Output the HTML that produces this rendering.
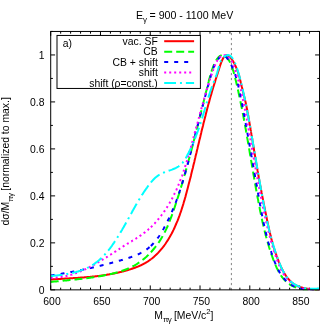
<!DOCTYPE html>
<html><head><meta charset="utf-8"><title>plot</title>
<style>html,body{margin:0;padding:0;background:#fff;width:332px;height:332px;overflow:hidden}</style></head>
<body>
<svg width="332" height="332" viewBox="0 0 332 332" style="position:absolute;left:0;top:0;will-change:transform">
<rect x="0" y="0" width="332" height="332" fill="#fff"/>
<path d="M50.70,289.85v-4.4M50.70,31.45v4.4M60.66,289.85v-2.2M60.66,31.45v2.2M70.61,289.85v-2.2M70.61,31.45v2.2M80.57,289.85v-2.2M80.57,31.45v2.2M90.52,289.85v-2.2M90.52,31.45v2.2M100.48,289.85v-4.4M100.48,31.45v4.4M110.43,289.85v-2.2M110.43,31.45v2.2M120.39,289.85v-2.2M120.39,31.45v2.2M130.34,289.85v-2.2M130.34,31.45v2.2M140.30,289.85v-2.2M140.30,31.45v2.2M150.26,289.85v-4.4M150.26,31.45v4.4M160.21,289.85v-2.2M160.21,31.45v2.2M170.17,289.85v-2.2M170.17,31.45v2.2M180.12,289.85v-2.2M180.12,31.45v2.2M190.08,289.85v-2.2M190.08,31.45v2.2M200.03,289.85v-4.4M200.03,31.45v4.4M209.99,289.85v-2.2M209.99,31.45v2.2M219.94,289.85v-2.2M219.94,31.45v2.2M229.90,289.85v-2.2M229.90,31.45v2.2M239.86,289.85v-2.2M239.86,31.45v2.2M249.81,289.85v-4.4M249.81,31.45v4.4M259.77,289.85v-2.2M259.77,31.45v2.2M269.72,289.85v-2.2M269.72,31.45v2.2M279.68,289.85v-2.2M279.68,31.45v2.2M289.63,289.85v-2.2M289.63,31.45v2.2M299.59,289.85v-4.4M299.59,31.45v4.4M309.54,289.85v-2.2M309.54,31.45v2.2M319.50,289.85v-2.2M319.50,31.45v2.2M50.7,289.85h4.4M319.5,289.85h-4.4M50.7,266.36h2.2M319.5,266.36h-2.2M50.7,242.87h4.4M319.5,242.87h-4.4M50.7,219.38h2.2M319.5,219.38h-2.2M50.7,195.89h4.4M319.5,195.89h-4.4M50.7,172.40h2.2M319.5,172.40h-2.2M50.7,148.90h4.4M319.5,148.90h-4.4M50.7,125.41h2.2M319.5,125.41h-2.2M50.7,101.92h4.4M319.5,101.92h-4.4M50.7,78.43h2.2M319.5,78.43h-2.2M50.7,54.94h4.4M319.5,54.94h-4.4M50.7,31.45h2.2M319.5,31.45h-2.2" stroke="#000" stroke-width="1" fill="none"/>
<line x1="231.4" y1="290.15000000000003" x2="231.4" y2="31.45" stroke="#777" stroke-width="0.9" stroke-dasharray="2.2,2.8"/>
<g fill="none" stroke-width="2" stroke-linejoin="round" clip-path="url(#cp)">
<path d="M50.7,279.5 L51.0,279.5 L51.5,279.4 L52.0,279.4 L52.5,279.4 L53.0,279.3 L53.5,279.3 L54.0,279.3 L54.5,279.2 L54.9,279.2 L55.4,279.2 L55.9,279.2 L56.4,279.1 L56.9,279.1 L57.4,279.1 L57.9,279.0 L58.4,279.0 L58.9,279.0 L59.4,278.9 L59.9,278.9 L60.4,278.9 L60.9,278.9 L61.4,278.8 L61.9,278.8 L62.4,278.8 L62.9,278.7 L63.4,278.7 L63.9,278.7 L64.4,278.7 L64.9,278.6 L65.4,278.6 L65.9,278.6 L66.4,278.5 L66.9,278.5 L67.4,278.5 L67.9,278.5 L68.4,278.4 L68.8,278.4 L69.3,278.4 L69.8,278.3 L70.3,278.3 L70.8,278.3 L71.3,278.3 L71.8,278.2 L72.3,278.2 L72.8,278.2 L73.3,278.1 L73.8,278.1 L74.3,278.1 L74.8,278.0 L75.3,278.0 L75.8,278.0 L76.3,278.0 L76.8,277.9 L77.2,277.9 L77.7,277.9 L78.2,277.8 L78.7,277.8 L79.2,277.8 L79.7,277.7 L80.2,277.7 L80.7,277.6 L81.2,277.6 L81.7,277.6 L82.2,277.5 L82.7,277.5 L83.2,277.5 L83.6,277.4 L84.1,277.4 L84.6,277.3 L85.1,277.3 L85.6,277.3 L86.1,277.2 L86.6,277.2 L87.1,277.1 L87.6,277.1 L88.1,277.1 L88.6,277.0 L89.0,277.0 L89.5,276.9 L90.0,276.9 L90.5,276.8 L91.0,276.8 L91.5,276.7 L92.0,276.7 L92.5,276.6 L93.0,276.6 L93.4,276.5 L93.9,276.5 L94.4,276.4 L94.9,276.4 L95.4,276.3 L95.9,276.3 L96.4,276.2 L96.9,276.2 L97.4,276.1 L97.8,276.0 L98.3,276.0 L98.8,275.9 L99.3,275.9 L99.8,275.8 L100.3,275.7 L100.8,275.7 L101.3,275.6 L101.7,275.5 L102.2,275.5 L102.7,275.4 L103.2,275.3 L103.7,275.3 L104.2,275.2 L104.7,275.1 L105.2,275.0 L105.6,275.0 L106.1,274.9 L106.6,274.8 L107.1,274.7 L107.6,274.6 L108.1,274.6 L108.6,274.5 L109.0,274.4 L109.5,274.3 L110.0,274.2 L110.5,274.1 L111.0,274.1 L111.5,274.0 L112.0,273.9 L112.4,273.8 L112.9,273.7 L113.4,273.6 L113.9,273.5 L114.4,273.4 L114.9,273.3 L115.3,273.2 L115.8,273.1 L116.3,273.0 L116.8,272.9 L117.3,272.8 L117.8,272.7 L118.2,272.6 L118.7,272.4 L119.2,272.3 L119.7,272.2 L120.2,272.1 L120.7,272.0 L121.1,271.9 L121.6,271.8 L122.1,271.6 L122.6,271.5 L123.1,271.4 L123.6,271.3 L124.0,271.1 L124.5,271.0 L125.0,270.9 L125.5,270.7 L126.0,270.6 L126.4,270.5 L126.9,270.3 L127.4,270.2 L127.9,270.0 L128.4,269.9 L128.8,269.7 L129.3,269.6 L129.8,269.4 L130.3,269.3 L130.8,269.1 L131.2,269.0 L131.7,268.8 L132.2,268.7 L132.7,268.5 L133.2,268.3 L133.6,268.2 L134.1,268.0 L134.6,267.8 L135.0,267.7 L135.5,267.5 L136.0,267.3 L136.5,267.1 L136.9,266.9 L137.4,266.8 L137.9,266.6 L138.3,266.4 L138.8,266.2 L139.2,266.0 L139.7,265.8 L140.2,265.6 L140.6,265.4 L141.1,265.2 L141.5,264.9 L142.0,264.7 L142.4,264.5 L142.8,264.3 L143.3,264.1 L143.7,263.8 L144.2,263.6 L144.6,263.4 L145.0,263.1 L145.5,262.9 L145.9,262.6 L146.3,262.4 L146.7,262.1 L147.1,261.9 L147.6,261.6 L148.0,261.3 L148.4,261.1 L148.8,260.8 L149.2,260.5 L149.6,260.2 L150.0,259.9 L150.4,259.6 L150.8,259.4 L150.9,259.3" stroke="#ff0000"/>
<path d="M150.9,259.3 L152.3,258.2 L153.8,256.9 L155.3,255.6 L156.7,254.3 L158.1,252.9 L159.4,251.4 L160.7,249.9 L162.0,248.4 L163.2,246.9 L164.4,245.3 L165.5,243.7 L166.6,242.0 L167.7,240.4 L168.7,238.7 L169.7,237.0 L170.7,235.2 L171.7,233.5 L172.6,231.7 L173.5,229.9 L174.3,228.2 L175.1,226.4 L175.9,224.5 L176.7,222.7 L177.5,220.9 L178.2,219.1 L178.9,217.2 L179.6,215.4 L180.2,213.5 L180.9,211.7 L181.5,209.8 L182.1,207.9 L182.7,206.0 L183.3,204.1 L183.8,202.3 L184.4,200.4 L184.9,198.5 L185.5,196.6 L186.0,194.6 L186.5,192.7 L187.0,190.8 L187.5,188.9 L188.0,187.0 L188.5,185.1 L189.0,183.1 L189.5,181.2 L190.0,179.3 L190.5,177.4 L191.0,175.4 L191.4,173.5 L191.9,171.6 L192.4,169.6 L192.9,167.7 L193.3,165.8 L193.8,163.8 L194.3,161.9 L194.7,160.0 L195.2,158.0 L195.6,156.1 L196.1,154.2 L196.6,152.2 L197.0,150.3 L197.5,148.4 L197.9,146.4 L198.4,144.5 L198.9,142.6 L199.3,140.6 L199.8,138.7 L200.3,136.8 L200.7,134.9 L201.2,132.9 L201.6,131.0 L202.1,129.1 L202.6,127.2 L203.1,125.2 L203.5,123.3 L204.0,121.4 L204.5,119.5 L205.0,117.6 L205.5,115.7 L205.9,113.8 L206.4,111.9 L206.9,110.0 L207.4,108.1 L207.9,106.2 L208.4,104.3 L209.0,102.4 L209.5,100.5 L210.0,98.6 L210.5,96.7 L211.1,94.9 L211.6,93.0 L212.1,91.1 L212.7,89.3 L213.2,87.4 L213.8,85.6 L214.4,83.7 L215.0,81.9 L215.5,80.0 L216.1,78.1 L216.7,76.2 L217.4,74.2 L218.0,72.2 L218.7,70.2 L219.3,68.1 L220.0,65.9 L220.8,63.7 L221.6,61.5 L222.5,59.5 L223.4,57.8 L224.5,56.4 L225.7,55.4 L227.0,55.2 L228.3,55.6 L229.7,56.7 L231.0,58.2 L232.3,60.0 L233.5,62.0 L234.6,64.1 L235.6,66.1 L236.4,68.1 L237.2,70.0 L237.9,71.9 L238.5,73.8 L239.1,75.6 L239.6,77.5 L240.0,79.3 L240.5,81.2 L240.9,83.0 L241.4,84.9 L241.8,86.8 L242.3,88.7 L242.8,90.6 L243.2,92.5 L243.7,94.5 L244.2,96.4 L244.7,98.4 L245.1,100.3 L245.6,102.3 L246.0,104.2 L246.4,106.1 L246.8,108.1 L247.2,110.0 L247.5,112.0 L247.9,113.9 L248.3,115.8 L248.6,117.8 L248.9,119.7 L249.3,121.7 L249.6,123.6 L250.0,125.6 L250.3,127.5 L250.6,129.5 L251.0,131.4 L251.0,131.7" stroke="#ff0000"/>
<path d="M251.0,131.7 L251.1,132.4 L251.3,133.4 L251.4,134.4 L251.6,135.3 L251.8,136.3 L251.9,137.3 L252.1,138.3 L252.3,139.2 L252.4,140.2 L252.6,141.2 L252.7,142.2 L252.9,143.2 L253.1,144.1 L253.2,145.1 L253.4,146.1 L253.6,147.1 L253.7,148.0 L253.9,149.0 L254.0,150.0 L254.2,151.0 L254.4,152.0 L254.5,152.9 L254.7,153.9 L254.9,154.9 L255.0,155.8 L255.2,156.8 L255.3,157.8 L255.5,158.8 L255.7,159.7 L255.8,160.7 L256.0,161.7 L256.2,162.7 L256.3,163.6 L256.5,164.6 L256.7,165.6 L256.8,166.5 L257.0,167.5 L257.2,168.5 L257.4,169.5 L257.5,170.4 L257.7,171.4 L257.9,172.4 L258.0,173.4 L258.2,174.3 L258.4,175.3 L258.6,176.3 L258.7,177.2 L258.9,178.2 L259.1,179.2 L259.3,180.2 L259.4,181.1 L259.6,182.1 L259.8,183.1 L260.0,184.1 L260.2,185.1 L260.4,186.0 L260.5,187.0 L260.7,188.0 L260.9,189.0 L261.1,189.9 L261.3,190.9 L261.5,191.9 L261.6,192.9 L261.8,193.8 L262.0,194.8 L262.2,195.8 L262.4,196.8 L262.6,197.7 L262.8,198.7 L263.0,199.7 L263.2,200.7 L263.4,201.7 L263.5,202.6 L263.7,203.6 L263.9,204.6 L264.1,205.5 L264.3,206.5 L264.5,207.5 L264.7,208.5 L264.9,209.4 L265.1,210.4 L265.3,211.4 L265.5,212.3 L265.7,213.3 L265.9,214.3 L266.1,215.2 L266.3,216.2 L266.5,217.2 L266.7,218.1 L266.9,219.1 L267.1,220.1 L267.3,221.0 L267.5,222.0 L267.7,223.0 L267.9,223.9 L268.1,224.9 L268.3,225.8 L268.5,226.8 L268.7,227.8 L268.9,228.7 L269.2,229.7 L269.4,230.6 L269.6,231.6 L269.8,232.5 L270.1,233.5 L270.3,234.5 L270.5,235.4 L270.8,236.4 L271.0,237.3 L271.2,238.3 L271.5,239.2 L271.7,240.2 L272.0,241.1 L272.3,242.1 L272.5,243.0 L272.8,244.0 L273.1,244.9 L273.3,245.8 L273.6,246.8 L273.9,247.7 L274.2,248.7 L274.5,249.6 L274.8,250.6 L275.1,251.5 L275.4,252.4 L275.7,253.4 L276.1,254.3 L276.4,255.3 L276.7,256.2 L277.0,257.1 L277.4,258.1 L277.7,259.0 L278.1,260.0 L278.5,260.9 L278.8,261.8 L279.2,262.8 L279.6,263.7 L280.0,264.6 L280.4,265.5 L280.8,266.5 L281.2,267.4 L281.6,268.3 L282.1,269.2 L282.5,270.1 L283.0,271.0 L283.5,271.8 L284.0,272.7 L284.5,273.5 L285.0,274.4 L285.5,275.2 L286.1,276.0 L286.6,276.8 L287.2,277.6 L287.8,278.3 L288.4,279.0 L289.1,279.8 L289.7,280.4 L290.4,281.1 L291.1,281.8 L291.8,282.4 L292.5,283.0 L293.3,283.5 L294.1,284.1 L294.9,284.6 L295.7,285.1 L296.6,285.5 L297.5,286.0 L298.4,286.3 L299.3,286.7 L300.2,287.0 L301.2,287.4 L302.2,287.6 L303.1,287.9 L304.1,288.1 L305.2,288.3 L306.2,288.5 L307.2,288.7 L308.2,288.8 L309.2,289.0 L310.3,289.1 L311.3,289.2 L312.3,289.3 L313.3,289.3 L314.3,289.4 L315.2,289.4 L316.2,289.4 L317.2,289.5 L318.1,289.5 L319.0,289.5 L319.5,289.5" stroke="#ff0000"/>
<path d="M50.7,281.9 L51.0,281.9 L51.5,281.8 L52.0,281.8 L52.5,281.7 L53.0,281.7 L53.5,281.6 L54.0,281.6 L54.5,281.5 L55.0,281.5 L55.4,281.5 L55.9,281.4 L56.4,281.4 L56.9,281.3 L57.4,281.3 L57.9,281.2 L58.4,281.2 L58.9,281.1 L59.4,281.1 L59.9,281.0 L60.4,281.0 L60.9,280.9 L61.4,280.9 L61.9,280.8 L62.4,280.8 L62.8,280.7 L63.3,280.7 L63.8,280.6 L64.3,280.6 L64.8,280.5 L65.3,280.5 L65.8,280.4 L66.3,280.4 L66.8,280.4 L67.3,280.3 L67.8,280.3 L68.3,280.2 L68.8,280.2 L69.3,280.1 L69.8,280.1 L70.2,280.0 L70.7,280.0 L71.2,279.9 L71.7,279.9 L72.2,279.8 L72.7,279.8 L73.2,279.7 L73.7,279.7 L74.2,279.6 L74.7,279.6 L75.2,279.5 L75.7,279.5 L76.2,279.4 L76.7,279.4 L77.1,279.3 L77.6,279.3 L78.1,279.2 L78.6,279.1 L79.1,279.1 L79.6,279.0 L80.1,279.0 L80.6,278.9 L81.1,278.9 L81.6,278.8 L82.1,278.8 L82.6,278.7 L83.1,278.6 L83.5,278.6 L84.0,278.5 L84.5,278.5 L85.0,278.4 L85.5,278.3 L86.0,278.3 L86.5,278.2 L87.0,278.2 L87.5,278.1 L88.0,278.0 L88.5,278.0 L88.9,277.9 L89.4,277.8 L89.9,277.8 L90.4,277.7 L90.9,277.6 L91.4,277.6 L91.9,277.5 L92.4,277.4 L92.9,277.3 L93.3,277.3 L93.8,277.2 L94.3,277.1 L94.8,277.0 L95.3,277.0 L95.8,276.9 L96.3,276.8 L96.8,276.7 L97.3,276.7 L97.7,276.6 L98.2,276.5 L98.7,276.4 L99.2,276.3 L99.7,276.2 L100.2,276.2 L100.7,276.1 L101.1,276.0 L101.6,275.9 L102.1,275.8 L102.6,275.7 L103.1,275.6 L103.6,275.5 L104.1,275.4 L104.5,275.3 L105.0,275.2 L105.5,275.1 L106.0,275.1 L106.5,275.0 L107.0,274.8 L107.4,274.7 L107.9,274.6 L108.4,274.5 L108.9,274.4 L109.4,274.3 L109.9,274.2 L110.3,274.1 L110.8,274.0 L111.3,273.9 L111.8,273.8 L112.3,273.7 L112.7,273.5 L113.2,273.4 L113.7,273.3 L114.2,273.2 L114.7,273.1 L115.1,272.9 L115.6,272.8 L116.1,272.7 L116.6,272.5 L117.0,272.4 L117.5,272.3 L118.0,272.1 L118.4,272.0 L118.9,271.9 L119.4,271.7 L119.9,271.6 L120.3,271.4 L120.8,271.3 L121.3,271.1 L121.7,271.0 L122.2,270.8 L122.7,270.7 L123.1,270.5 L123.6,270.3 L124.0,270.2 L124.5,270.0 L125.0,269.8 L125.4,269.6 L125.9,269.5 L126.3,269.3 L126.8,269.1 L127.2,268.9 L127.7,268.7 L128.1,268.5 L128.6,268.4 L129.0,268.2 L129.5,268.0 L129.9,267.8 L130.4,267.5 L130.8,267.3 L131.2,267.1 L131.7,266.9 L132.1,266.7 L132.5,266.5 L133.0,266.2 L133.4,266.0 L133.8,265.8 L134.2,265.6 L134.7,265.3 L135.1,265.1 L135.5,264.8 L135.9,264.6 L136.4,264.3 L136.8,264.1 L137.2,263.8 L137.6,263.5 L138.0,263.3 L138.4,263.0 L138.8,262.7 L139.2,262.5 L139.6,262.2 L140.0,261.9 L140.4,261.6 L140.8,261.3 L141.2,261.0 L141.6,260.7 L142.0,260.4 L142.4,260.1 L142.8,259.8 L143.1,259.5 L143.5,259.2 L143.9,258.9 L144.3,258.6 L144.7,258.3 L145.0,258.0 L145.4,257.6 L145.8,257.3 L146.1,257.0 L146.5,256.7 L146.9,256.3 L147.2,256.0 L147.6,255.6 L147.9,255.3 L148.3,255.0 L148.6,254.6 L149.0,254.3 L149.3,253.9 L149.7,253.6 L150.0,253.2 L150.4,252.8 L150.7,252.5 L150.9,252.3" stroke="#00ff00" stroke-dasharray="8,4"/>
<path d="M150.9,252.3 L152.0,251.0 L153.3,249.5 L154.6,248.0 L155.8,246.4 L157.0,244.8 L158.2,243.2 L159.3,241.6 L160.4,239.9 L161.4,238.2 L162.4,236.5 L163.3,234.8 L164.3,233.1 L165.2,231.3 L166.0,229.6 L166.9,227.8 L167.7,226.0 L168.4,224.2 L169.2,222.3 L169.9,220.5 L170.6,218.7 L171.3,216.8 L172.0,215.0 L172.7,213.1 L173.3,211.2 L174.0,209.3 L174.6,207.5 L175.2,205.6 L175.8,203.7 L176.5,201.8 L177.1,199.9 L177.7,198.0 L178.3,196.1 L178.9,194.2 L179.4,192.3 L180.0,190.4 L180.6,188.5 L181.2,186.6 L181.8,184.7 L182.3,182.8 L182.9,180.9 L183.4,179.0 L184.0,177.1 L184.5,175.2 L185.1,173.2 L185.6,171.3 L186.2,169.4 L186.7,167.5 L187.2,165.6 L187.8,163.7 L188.3,161.7 L188.8,159.8 L189.3,157.9 L189.8,156.0 L190.4,154.1 L190.9,152.1 L191.4,150.2 L191.9,148.3 L192.4,146.4 L192.9,144.5 L193.4,142.5 L193.9,140.6 L194.4,138.7 L194.9,136.8 L195.4,134.8 L195.8,132.9 L196.3,131.0 L196.8,129.1 L197.3,127.2 L197.8,125.2 L198.3,123.3 L198.7,121.4 L199.2,119.5 L199.7,117.6 L200.2,115.7 L200.6,113.7 L201.1,111.8 L201.6,109.9 L202.1,108.0 L202.5,106.1 L203.0,104.2 L203.5,102.3 L203.9,100.4 L204.4,98.5 L204.9,96.6 L205.4,94.7 L205.8,92.8 L206.3,90.9 L206.8,89.0 L207.2,87.1 L207.7,85.2 L208.2,83.3 L208.7,81.4 L209.1,79.5 L209.7,77.6 L210.2,75.7 L210.8,73.8 L211.4,71.8 L212.0,69.9 L212.7,68.0 L213.4,66.0 L214.2,64.0 L215.1,62.1 L216.2,60.3 L217.3,58.6 L218.7,57.0 L220.1,55.8 L221.7,55.1 L223.3,55.2 L224.9,55.8 L226.4,57.0 L227.8,58.6 L229.0,60.4 L230.0,62.3 L230.9,64.3 L231.7,66.3 L232.4,68.3 L233.1,70.3 L233.7,72.2 L234.2,74.1 L234.7,76.0 L235.2,77.9 L235.6,79.8 L236.1,81.7 L236.5,83.6 L237.0,85.5 L237.4,87.4 L237.8,89.3 L238.3,91.3 L238.7,93.2 L239.1,95.1 L239.5,97.0 L239.9,98.9 L240.3,100.9 L240.7,102.8 L241.1,104.7 L241.5,106.7 L241.9,108.6 L242.2,110.6 L242.6,112.5 L243.0,114.4 L243.4,116.4 L243.7,118.3 L244.1,120.3 L244.5,122.2 L244.8,124.2 L245.2,126.1 L245.5,128.1 L245.9,130.0 L246.2,132.0 L246.6,133.9 L246.9,135.9 L247.2,137.9 L247.6,139.8 L247.9,141.8 L248.3,143.7 L248.6,145.7 L248.9,147.6 L249.3,149.6 L249.6,151.6 L249.9,153.5 L250.3,155.5 L250.6,157.5 L250.9,159.4 L251.0,159.8" stroke="#00ff00" stroke-dasharray="8,4"/>
<path d="M251.0,159.8 L251.1,160.4 L251.3,161.4 L251.4,162.3 L251.6,163.3 L251.8,164.3 L251.9,165.3 L252.1,166.3 L252.3,167.2 L252.4,168.2 L252.6,169.2 L252.8,170.2 L252.9,171.2 L253.1,172.1 L253.3,173.1 L253.4,174.1 L253.6,175.1 L253.8,176.1 L254.0,177.0 L254.1,178.0 L254.3,179.0 L254.5,180.0 L254.6,180.9 L254.8,181.9 L255.0,182.9 L255.2,183.9 L255.3,184.8 L255.5,185.8 L255.7,186.8 L255.8,187.8 L256.0,188.7 L256.2,189.7 L256.4,190.7 L256.5,191.7 L256.7,192.6 L256.9,193.6 L257.1,194.6 L257.3,195.5 L257.4,196.5 L257.6,197.5 L257.8,198.5 L258.0,199.4 L258.2,200.4 L258.3,201.4 L258.5,202.3 L258.7,203.3 L258.9,204.3 L259.1,205.2 L259.3,206.2 L259.5,207.2 L259.7,208.1 L259.8,209.1 L260.0,210.0 L260.2,211.0 L260.4,212.0 L260.6,212.9 L260.8,213.9 L261.0,214.9 L261.2,215.8 L261.4,216.8 L261.6,217.7 L261.8,218.7 L262.0,219.6 L262.2,220.6 L262.4,221.6 L262.6,222.5 L262.9,223.5 L263.1,224.4 L263.3,225.4 L263.5,226.3 L263.7,227.3 L264.0,228.3 L264.2,229.2 L264.4,230.2 L264.7,231.1 L264.9,232.1 L265.1,233.0 L265.4,234.0 L265.6,234.9 L265.9,235.9 L266.1,236.8 L266.4,237.8 L266.6,238.7 L266.9,239.7 L267.2,240.6 L267.4,241.6 L267.7,242.5 L268.0,243.5 L268.3,244.4 L268.6,245.4 L268.8,246.3 L269.1,247.3 L269.4,248.2 L269.7,249.2 L270.0,250.1 L270.3,251.1 L270.7,252.0 L271.0,253.0 L271.3,253.9 L271.6,254.9 L272.0,255.8 L272.3,256.7 L272.6,257.7 L273.0,258.6 L273.3,259.6 L273.7,260.5 L274.1,261.5 L274.4,262.4 L274.8,263.4 L275.2,264.3 L275.6,265.2 L276.0,266.2 L276.4,267.1 L276.8,268.0 L277.3,268.9 L277.7,269.8 L278.2,270.7 L278.6,271.6 L279.1,272.5 L279.6,273.3 L280.1,274.2 L280.7,275.0 L281.2,275.8 L281.8,276.6 L282.3,277.4 L282.9,278.1 L283.5,278.9 L284.2,279.6 L284.8,280.3 L285.5,281.0 L286.2,281.6 L286.9,282.3 L287.6,282.9 L288.4,283.5 L289.2,284.0 L290.0,284.6 L290.8,285.1 L291.7,285.6 L292.5,286.0 L293.4,286.4 L294.3,286.8 L295.3,287.2 L296.2,287.6 L297.2,287.9 L298.1,288.2 L299.1,288.5 L300.1,288.7 L301.1,288.9 L302.1,289.1 L303.1,289.3 L304.2,289.5 L305.2,289.5 L306.2,289.5 L307.2,289.5 L308.2,289.5 L309.3,289.5 L310.3,289.5 L311.3,289.5 L312.3,289.5 L313.3,289.5 L314.3,289.5 L315.2,289.5 L316.2,289.5 L317.2,289.5 L318.1,289.5 L319.0,289.5 L319.5,289.4" stroke="#00ff00" stroke-dasharray="8,4"/>
<path d="M50.7,275.5 L51.0,275.5 L51.4,275.4 L51.9,275.3 L52.4,275.2 L52.9,275.2 L53.4,275.1 L53.9,275.0 L54.4,274.9 L54.9,274.8 L55.4,274.8 L55.9,274.7 L56.4,274.6 L56.9,274.5 L57.4,274.4 L57.9,274.3 L58.3,274.3 L58.8,274.2 L59.3,274.1 L59.8,274.0 L60.3,273.9 L60.8,273.9 L61.3,273.8 L61.7,273.7 L62.2,273.6 L62.7,273.5 L63.2,273.4 L63.7,273.3 L64.2,273.3 L64.7,273.2 L65.1,273.1 L65.6,273.0 L66.1,272.9 L66.6,272.8 L67.1,272.7 L67.5,272.7 L68.0,272.6 L68.5,272.5 L69.0,272.4 L69.5,272.3 L69.9,272.2 L70.4,272.1 L70.9,272.0 L71.4,272.0 L71.8,271.9 L72.3,271.8 L72.8,271.7 L73.3,271.6 L73.8,271.5 L74.2,271.4 L74.7,271.3 L75.2,271.2 L75.7,271.1 L76.1,271.0 L76.6,270.9 L77.1,270.9 L77.5,270.8 L78.0,270.7 L78.5,270.6 L79.0,270.5 L79.4,270.4 L79.9,270.3 L80.4,270.2 L80.9,270.1 L81.3,270.0 L81.8,269.9 L82.3,269.8 L82.7,269.7 L83.2,269.6 L83.7,269.5 L84.2,269.4 L84.6,269.3 L85.1,269.2 L85.6,269.1 L86.0,269.0 L86.5,268.9 L87.0,268.8 L87.4,268.7 L87.9,268.6 L88.4,268.5 L88.9,268.4 L89.3,268.3 L89.8,268.2 L90.3,268.1 L90.7,268.0 L91.2,267.9 L91.7,267.8 L92.1,267.7 L92.6,267.6 L93.1,267.5 L93.6,267.3 L94.0,267.2 L94.5,267.1 L95.0,267.0 L95.4,266.9 L95.9,266.8 L96.4,266.7 L96.8,266.6 L97.3,266.5 L97.8,266.4 L98.2,266.2 L98.7,266.1 L99.2,266.0 L99.6,265.9 L100.1,265.8 L100.6,265.7 L101.1,265.6 L101.5,265.5 L102.0,265.3 L102.5,265.2 L102.9,265.1 L103.4,265.0 L103.9,264.9 L104.3,264.8 L104.8,264.6 L105.3,264.5 L105.8,264.4 L106.2,264.3 L106.7,264.2 L107.2,264.0 L107.6,263.9 L108.1,263.8 L108.6,263.7 L109.1,263.5 L109.5,263.4 L110.0,263.3 L110.5,263.2 L110.9,263.0 L111.4,262.9 L111.9,262.8 L112.4,262.7 L112.8,262.5 L113.3,262.4 L113.8,262.3 L114.3,262.1 L114.7,262.0 L115.2,261.9 L115.7,261.8 L116.2,261.6 L116.6,261.5 L117.1,261.4 L117.6,261.2 L118.1,261.1 L118.5,261.0 L119.0,260.8 L119.5,260.7 L120.0,260.5 L120.4,260.4 L120.9,260.3 L121.4,260.1 L121.9,260.0 L122.4,259.9 L122.8,259.7 L123.3,259.6 L123.8,259.4 L124.3,259.3 L124.8,259.1 L125.2,259.0 L125.7,258.8 L126.2,258.7 L126.7,258.5 L127.2,258.4 L127.6,258.2 L128.1,258.1 L128.6,257.9 L129.1,257.8 L129.5,257.6 L130.0,257.5 L130.5,257.3 L131.0,257.1 L131.4,257.0 L131.9,256.8 L132.4,256.6 L132.8,256.5 L133.3,256.3 L133.8,256.1 L134.2,255.9 L134.7,255.7 L135.1,255.6 L135.6,255.4 L136.1,255.2 L136.5,255.0 L137.0,254.8 L137.4,254.6 L137.9,254.4 L138.3,254.2 L138.8,254.0 L139.2,253.8 L139.6,253.6 L140.1,253.3 L140.5,253.1 L141.0,252.9 L141.4,252.7 L141.8,252.4 L142.2,252.2 L142.7,252.0 L143.1,251.7 L143.5,251.5 L143.9,251.2 L144.3,251.0 L144.7,250.7 L145.1,250.5 L145.5,250.2 L145.9,249.9 L146.3,249.7 L146.7,249.4 L147.1,249.1 L147.5,248.8 L147.9,248.5 L148.2,248.2 L148.6,247.9 L149.0,247.6 L149.3,247.3 L149.7,247.0 L150.1,246.7 L150.4,246.4 L150.8,246.1 L150.9,246.0" stroke="#0000ff" stroke-dasharray="4,6"/>
<path d="M150.9,246.0 L152.1,244.7 L153.5,243.3 L154.7,241.9 L156.0,240.4 L157.1,238.9 L158.3,237.3 L159.4,235.7 L160.5,234.0 L161.5,232.3 L162.5,230.6 L163.5,228.9 L164.4,227.2 L165.4,225.5 L166.3,223.7 L167.2,222.0 L168.0,220.2 L168.9,218.5 L169.7,216.7 L170.6,214.9 L171.3,213.1 L172.1,211.3 L172.9,209.5 L173.6,207.7 L174.4,205.9 L175.1,204.1 L175.8,202.3 L176.5,200.5 L177.2,198.6 L177.8,196.8 L178.5,195.0 L179.1,193.1 L179.7,191.3 L180.3,189.4 L180.9,187.5 L181.5,185.7 L182.1,183.8 L182.7,181.9 L183.2,180.1 L183.8,178.2 L184.3,176.3 L184.9,174.4 L185.4,172.5 L185.9,170.6 L186.5,168.7 L187.0,166.8 L187.5,164.9 L188.0,163.0 L188.5,161.1 L189.0,159.2 L189.5,157.3 L190.0,155.4 L190.5,153.5 L191.0,151.6 L191.5,149.7 L191.9,147.8 L192.4,145.9 L192.9,144.0 L193.4,142.1 L193.9,140.2 L194.4,138.3 L194.9,136.3 L195.3,134.4 L195.8,132.5 L196.3,130.6 L196.8,128.7 L197.3,126.8 L197.8,124.9 L198.3,123.0 L198.7,121.1 L199.2,119.2 L199.7,117.3 L200.2,115.3 L200.7,113.4 L201.2,111.5 L201.7,109.6 L202.2,107.7 L202.7,105.8 L203.2,103.9 L203.7,102.0 L204.2,100.1 L204.7,98.2 L205.2,96.3 L205.7,94.4 L206.2,92.5 L206.7,90.6 L207.2,88.7 L207.7,86.9 L208.3,85.0 L208.8,83.1 L209.3,81.2 L209.8,79.3 L210.4,77.4 L210.9,75.6 L211.5,73.7 L212.0,71.8 L212.6,70.0 L213.3,68.1 L214.0,66.3 L214.9,64.5 L215.8,62.7 L216.9,60.9 L218.2,59.1 L219.6,57.3 L221.2,55.9 L222.7,55.1 L224.1,55.2 L225.5,56.2 L226.7,57.7 L227.9,59.3 L229.0,61.0 L230.0,62.8 L231.0,64.5 L231.9,66.3 L232.7,68.1 L233.5,69.9 L234.2,71.7 L234.9,73.5 L235.5,75.4 L236.1,77.3 L236.6,79.2 L237.2,81.1 L237.6,83.0 L238.1,84.9 L238.5,86.8 L239.0,88.7 L239.4,90.7 L239.8,92.6 L240.2,94.5 L240.5,96.5 L240.9,98.4 L241.3,100.3 L241.7,102.3 L242.1,104.2 L242.4,106.1 L242.8,108.0 L243.2,110.0 L243.5,111.9 L243.9,113.8 L244.3,115.8 L244.6,117.7 L245.0,119.6 L245.3,121.6 L245.7,123.5 L246.0,125.4 L246.4,127.3 L246.7,129.3 L247.1,131.2 L247.4,133.1 L247.8,135.0 L248.1,137.0 L248.5,138.9 L248.8,140.8 L249.1,142.7 L249.5,144.7 L249.8,146.6 L250.2,148.5 L250.5,150.4 L250.8,152.3 L251.0,153.3" stroke="#0000ff" stroke-dasharray="4,6"/>
<path d="M251.0,153.3 L251.2,154.2 L251.3,155.2 L251.5,156.2 L251.7,157.1 L251.8,158.1 L252.0,159.0 L252.2,160.0 L252.4,161.0 L252.5,161.9 L252.7,162.9 L252.9,163.8 L253.0,164.8 L253.2,165.7 L253.4,166.7 L253.5,167.7 L253.7,168.6 L253.9,169.6 L254.0,170.5 L254.2,171.5 L254.4,172.4 L254.5,173.4 L254.7,174.3 L254.9,175.3 L255.0,176.3 L255.2,177.2 L255.4,178.2 L255.5,179.1 L255.7,180.1 L255.9,181.0 L256.0,182.0 L256.2,182.9 L256.4,183.9 L256.6,184.9 L256.7,185.8 L256.9,186.8 L257.1,187.7 L257.2,188.7 L257.4,189.6 L257.6,190.6 L257.7,191.5 L257.9,192.5 L258.1,193.4 L258.2,194.4 L258.4,195.4 L258.6,196.3 L258.8,197.3 L258.9,198.2 L259.1,199.2 L259.3,200.1 L259.4,201.1 L259.6,202.0 L259.8,203.0 L260.0,203.9 L260.1,204.9 L260.3,205.8 L260.5,206.8 L260.6,207.8 L260.8,208.7 L261.0,209.7 L261.2,210.6 L261.4,211.6 L261.5,212.5 L261.7,213.5 L261.9,214.4 L262.1,215.4 L262.3,216.3 L262.5,217.3 L262.7,218.2 L262.8,219.2 L263.0,220.1 L263.2,221.1 L263.4,222.1 L263.6,223.0 L263.8,224.0 L264.0,224.9 L264.3,225.9 L264.5,226.8 L264.7,227.8 L264.9,228.7 L265.1,229.7 L265.3,230.6 L265.6,231.6 L265.8,232.5 L266.0,233.5 L266.2,234.4 L266.5,235.4 L266.7,236.3 L267.0,237.3 L267.2,238.2 L267.5,239.2 L267.7,240.1 L268.0,241.1 L268.2,242.0 L268.5,243.0 L268.8,243.9 L269.0,244.9 L269.3,245.8 L269.6,246.8 L269.9,247.7 L270.2,248.7 L270.5,249.6 L270.7,250.6 L271.1,251.5 L271.4,252.5 L271.7,253.4 L272.0,254.4 L272.3,255.3 L272.6,256.3 L273.0,257.2 L273.3,258.2 L273.7,259.1 L274.0,260.1 L274.4,261.0 L274.7,261.9 L275.1,262.9 L275.5,263.8 L275.9,264.7 L276.3,265.6 L276.7,266.6 L277.1,267.5 L277.5,268.4 L277.9,269.3 L278.4,270.1 L278.9,271.0 L279.3,271.9 L279.8,272.7 L280.3,273.5 L280.8,274.4 L281.4,275.2 L281.9,275.9 L282.5,276.7 L283.1,277.5 L283.7,278.2 L284.3,278.9 L284.9,279.6 L285.6,280.3 L286.3,281.0 L286.9,281.6 L287.7,282.3 L288.4,282.8 L289.2,283.4 L289.9,284.0 L290.7,284.5 L291.6,285.0 L292.4,285.5 L293.3,285.9 L294.1,286.4 L295.1,286.7 L296.0,287.1 L296.9,287.5 L297.9,287.8 L298.8,288.1 L299.8,288.4 L300.8,288.6 L301.8,288.9 L302.8,289.1 L303.8,289.3 L304.8,289.4 L305.8,289.5 L306.8,289.5 L307.8,289.5 L308.9,289.5 L309.9,289.5 L310.9,289.5 L311.9,289.5 L312.9,289.5 L313.8,289.5 L314.8,289.5 L315.8,289.5 L316.7,289.5 L317.6,289.5 L318.5,289.5 L319.4,289.4 L319.5,289.4" stroke="#0000ff" stroke-dasharray="4,6"/>
<path d="M50.7,277.9 L50.9,277.9 L51.4,277.9 L51.9,277.9 L52.4,277.9 L52.9,277.8 L53.4,277.8 L53.9,277.8 L54.4,277.8 L54.9,277.7 L55.4,277.7 L55.9,277.6 L56.4,277.6 L56.9,277.6 L57.4,277.5 L57.9,277.5 L58.3,277.4 L58.8,277.3 L59.3,277.3 L59.8,277.2 L60.3,277.1 L60.8,277.1 L61.2,277.0 L61.7,276.9 L62.2,276.8 L62.7,276.8 L63.1,276.7 L63.6,276.6 L64.1,276.5 L64.6,276.4 L65.0,276.3 L65.5,276.2 L66.0,276.1 L66.4,276.0 L66.9,275.9 L67.4,275.7 L67.8,275.6 L68.3,275.5 L68.8,275.4 L69.2,275.3 L69.7,275.1 L70.1,275.0 L70.6,274.9 L71.1,274.7 L71.5,274.6 L72.0,274.5 L72.4,274.3 L72.9,274.2 L73.3,274.0 L73.8,273.9 L74.3,273.7 L74.7,273.6 L75.2,273.4 L75.6,273.3 L76.1,273.1 L76.5,272.9 L77.0,272.8 L77.4,272.6 L77.8,272.4 L78.3,272.3 L78.7,272.1 L79.2,271.9 L79.6,271.7 L80.1,271.5 L80.5,271.4 L81.0,271.2 L81.4,271.0 L81.8,270.8 L82.3,270.6 L82.7,270.4 L83.1,270.2 L83.6,270.0 L84.0,269.8 L84.5,269.6 L84.9,269.4 L85.3,269.2 L85.8,269.0 L86.2,268.8 L86.6,268.6 L87.1,268.4 L87.5,268.2 L87.9,268.0 L88.3,267.7 L88.8,267.5 L89.2,267.3 L89.6,267.1 L90.1,266.9 L90.5,266.6 L90.9,266.4 L91.3,266.2 L91.8,266.0 L92.2,265.7 L92.6,265.5 L93.0,265.3 L93.4,265.0 L93.9,264.8 L94.3,264.6 L94.7,264.3 L95.1,264.1 L95.6,263.9 L96.0,263.6 L96.4,263.4 L96.8,263.1 L97.2,262.9 L97.6,262.7 L98.1,262.4 L98.5,262.2 L98.9,261.9 L99.3,261.7 L99.7,261.4 L100.1,261.2 L100.5,260.9 L101.0,260.7 L101.4,260.4 L101.8,260.2 L102.2,259.9 L102.6,259.7 L103.0,259.4 L103.4,259.2 L103.8,258.9 L104.3,258.7 L104.7,258.4 L105.1,258.1 L105.5,257.9 L105.9,257.6 L106.3,257.4 L106.7,257.1 L107.1,256.8 L107.5,256.6 L107.9,256.3 L108.3,256.1 L108.7,255.8 L109.1,255.5 L109.5,255.3 L110.0,255.0 L110.4,254.8 L110.8,254.5 L111.2,254.2 L111.6,254.0 L112.0,253.7 L112.4,253.5 L112.8,253.2 L113.2,252.9 L113.6,252.7 L114.0,252.4 L114.4,252.1 L114.8,251.9 L115.2,251.6 L115.6,251.4 L116.0,251.1 L116.4,250.8 L116.8,250.6 L117.2,250.3 L117.6,250.0 L118.0,249.8 L118.4,249.5 L118.8,249.3 L119.2,249.0 L119.6,248.8 L120.0,248.5 L120.4,248.2 L120.8,248.0 L121.2,247.7 L121.6,247.5 L122.0,247.2 L122.4,247.0 L122.8,246.7 L123.2,246.4 L123.6,246.2 L124.0,245.9 L124.4,245.7 L124.8,245.4 L125.2,245.2 L125.6,244.9 L126.0,244.7 L126.4,244.4 L126.8,244.2 L127.2,243.9 L127.6,243.7 L128.0,243.5 L128.4,243.2 L128.8,243.0 L129.2,242.7 L129.6,242.5 L130.0,242.2 L130.4,242.0 L130.8,241.7 L131.2,241.5 L131.6,241.3 L131.9,241.0 L132.3,240.8 L132.7,240.5 L133.1,240.3 L133.5,240.0 L133.9,239.8 L134.3,239.6 L134.7,239.3 L135.1,239.1 L135.5,238.8 L135.9,238.6 L136.3,238.3 L136.6,238.1 L137.0,237.8 L137.4,237.6 L137.8,237.3 L138.2,237.1 L138.6,236.8 L139.0,236.6 L139.3,236.3 L139.7,236.0 L140.1,235.8 L140.5,235.5 L140.9,235.3 L141.2,235.0 L141.6,234.7 L142.0,234.5 L142.4,234.2 L142.7,233.9 L143.1,233.7 L143.5,233.4 L143.9,233.1 L144.2,232.8 L144.6,232.5 L145.0,232.3 L145.3,232.0 L145.7,231.7 L146.1,231.4 L146.4,231.1 L146.8,230.8 L147.1,230.5 L147.5,230.2 L147.9,229.9 L148.2,229.6 L148.6,229.3 L148.9,229.0 L149.3,228.7 L149.6,228.3 L150.0,228.0 L150.3,227.7 L150.6,227.4 L150.9,227.2" stroke="#ff00ff" stroke-dasharray="2,3"/>
<path d="M150.9,227.2 L152.0,226.1 L153.3,224.7 L154.7,223.4 L156.0,221.9 L157.2,220.5 L158.5,219.0 L159.7,217.5 L160.9,216.0 L162.0,214.5 L163.2,212.9 L164.3,211.4 L165.4,209.8 L166.5,208.1 L167.5,206.5 L168.5,204.9 L169.5,203.2 L170.4,201.6 L171.4,199.9 L172.3,198.2 L173.2,196.5 L174.0,194.8 L174.8,193.1 L175.7,191.4 L176.5,189.6 L177.2,187.9 L178.0,186.2 L178.7,184.4 L179.4,182.6 L180.1,180.9 L180.8,179.1 L181.5,177.3 L182.2,175.5 L182.8,173.7 L183.4,171.9 L184.0,170.1 L184.6,168.3 L185.2,166.4 L185.8,164.6 L186.4,162.8 L186.9,160.9 L187.5,159.1 L188.0,157.2 L188.6,155.4 L189.1,153.5 L189.6,151.7 L190.2,149.8 L190.7,148.0 L191.2,146.1 L191.7,144.3 L192.2,142.4 L192.7,140.5 L193.2,138.7 L193.7,136.8 L194.2,134.9 L194.7,133.1 L195.2,131.2 L195.7,129.3 L196.2,127.5 L196.8,125.6 L197.3,123.8 L197.8,121.9 L198.3,120.0 L198.8,118.2 L199.3,116.3 L199.8,114.5 L200.3,112.6 L200.8,110.8 L201.3,108.9 L201.8,107.1 L202.3,105.2 L202.9,103.4 L203.4,101.6 L203.9,99.7 L204.4,97.9 L204.9,96.1 L205.5,94.3 L206.0,92.5 L206.5,90.7 L207.1,88.9 L207.6,87.1 L208.1,85.3 L208.7,83.5 L209.2,81.7 L209.8,79.9 L210.4,78.1 L210.9,76.3 L211.6,74.4 L212.2,72.5 L212.9,70.6 L213.6,68.7 L214.4,66.6 L215.3,64.6 L216.2,62.6 L217.2,60.7 L218.3,59.0 L219.6,57.5 L221.0,56.3 L222.4,55.5 L223.9,55.2 L225.5,55.3 L226.9,55.9 L228.3,56.8 L229.6,58.1 L230.8,59.6 L231.8,61.4 L232.7,63.3 L233.5,65.3 L234.3,67.4 L235.0,69.5 L235.6,71.6 L236.2,73.7 L236.8,75.6 L237.4,77.5 L237.9,79.2 L238.5,80.9 L239.0,82.6 L239.5,84.4 L240.0,86.1 L240.4,88.0 L240.9,89.8 L241.3,91.7 L241.7,93.5 L242.1,95.4 L242.5,97.3 L242.9,99.2 L243.3,101.1 L243.7,103.0 L244.1,104.9 L244.4,106.8 L244.8,108.7 L245.2,110.6 L245.5,112.5 L245.9,114.3 L246.2,116.2 L246.6,118.1 L246.9,120.0 L247.3,121.8 L247.6,123.7 L247.9,125.6 L248.3,127.5 L248.6,129.4 L249.0,131.2 L249.3,133.1 L249.6,135.0 L250.0,136.9 L250.3,138.8 L250.6,140.6 L251.0,142.5 L251.0,142.8" stroke="#ff00ff" stroke-dasharray="2,3"/>
<path d="M251.0,142.8 L251.1,143.5 L251.3,144.4 L251.5,145.4 L251.6,146.3 L251.8,147.2 L252.0,148.2 L252.1,149.1 L252.3,150.1 L252.5,151.0 L252.6,152.0 L252.8,152.9 L253.0,153.9 L253.1,154.8 L253.3,155.8 L253.5,156.7 L253.7,157.7 L253.8,158.6 L254.0,159.6 L254.2,160.5 L254.3,161.5 L254.5,162.4 L254.7,163.4 L254.8,164.3 L255.0,165.3 L255.2,166.2 L255.4,167.1 L255.5,168.1 L255.7,169.0 L255.9,170.0 L256.1,170.9 L256.2,171.9 L256.4,172.8 L256.6,173.8 L256.7,174.7 L256.9,175.7 L257.1,176.6 L257.3,177.6 L257.4,178.5 L257.6,179.5 L257.8,180.4 L258.0,181.4 L258.2,182.3 L258.3,183.3 L258.5,184.2 L258.7,185.2 L258.9,186.1 L259.0,187.0 L259.2,188.0 L259.4,188.9 L259.6,189.9 L259.8,190.8 L260.0,191.8 L260.1,192.7 L260.3,193.7 L260.5,194.6 L260.7,195.5 L260.9,196.5 L261.0,197.4 L261.2,198.4 L261.4,199.3 L261.6,200.2 L261.8,201.2 L262.0,202.1 L262.2,203.1 L262.4,204.0 L262.5,204.9 L262.7,205.9 L262.9,206.8 L263.1,207.7 L263.3,208.7 L263.5,209.6 L263.7,210.5 L263.9,211.5 L264.1,212.4 L264.3,213.3 L264.5,214.3 L264.7,215.2 L264.9,216.1 L265.1,217.1 L265.3,218.0 L265.5,218.9 L265.7,219.8 L265.9,220.8 L266.1,221.7 L266.3,222.6 L266.5,223.6 L266.8,224.5 L267.0,225.4 L267.2,226.3 L267.4,227.3 L267.6,228.2 L267.9,229.1 L268.1,230.0 L268.3,231.0 L268.6,231.9 L268.8,232.8 L269.0,233.8 L269.3,234.7 L269.5,235.6 L269.8,236.5 L270.0,237.5 L270.3,238.4 L270.5,239.3 L270.8,240.2 L271.0,241.1 L271.3,242.1 L271.6,243.0 L271.9,243.9 L272.1,244.8 L272.4,245.8 L272.7,246.7 L273.0,247.6 L273.3,248.5 L273.5,249.5 L273.8,250.4 L274.1,251.3 L274.4,252.2 L274.7,253.2 L275.1,254.1 L275.4,255.0 L275.7,255.9 L276.0,256.9 L276.3,257.8 L276.7,258.7 L277.0,259.6 L277.3,260.5 L277.7,261.5 L278.0,262.4 L278.4,263.3 L278.7,264.2 L279.1,265.1 L279.5,266.0 L279.9,266.9 L280.3,267.8 L280.7,268.7 L281.1,269.6 L281.6,270.4 L282.0,271.3 L282.5,272.1 L282.9,272.9 L283.4,273.8 L283.9,274.6 L284.5,275.4 L285.0,276.1 L285.6,276.9 L286.1,277.6 L286.7,278.3 L287.3,279.0 L288.0,279.7 L288.6,280.4 L289.3,281.0 L290.0,281.6 L290.7,282.2 L291.5,282.8 L292.2,283.4 L293.0,283.9 L293.8,284.4 L294.6,284.9 L295.5,285.3 L296.3,285.8 L297.2,286.2 L298.1,286.6 L299.0,286.9 L299.9,287.3 L300.8,287.6 L301.7,287.9 L302.7,288.2 L303.6,288.4 L304.6,288.6 L305.5,288.8 L306.5,289.0 L307.5,289.2 L308.5,289.3 L309.4,289.5 L310.4,289.5 L311.4,289.5 L312.3,289.5 L313.3,289.5 L314.3,289.5 L315.2,289.5 L316.2,289.5 L317.2,289.5 L318.1,289.5 L319.0,289.4 L319.5,289.4" stroke="#ff00ff" stroke-dasharray="2,3"/>
<path d="M50.7,276.0 L51.4,275.9 L52.3,275.9 L53.2,275.8 L54.2,275.7 L55.1,275.6 L56.1,275.5 L57.0,275.4 L58.0,275.3 L58.9,275.2 L59.9,275.1 L60.8,275.0 L61.8,274.9 L62.7,274.7 L63.7,274.6 L64.6,274.5 L65.6,274.3 L66.5,274.1 L67.5,274.0 L68.4,273.8 L69.4,273.6 L70.3,273.4 L71.3,273.2 L72.2,273.0 L73.2,272.7 L74.1,272.5 L75.0,272.3 L76.0,272.0 L76.9,271.7 L77.8,271.5 L78.7,271.2 L79.6,270.9 L80.5,270.6 L81.4,270.2 L82.3,269.9 L83.2,269.6 L84.1,269.2 L85.0,268.8 L85.8,268.5 L86.7,268.1 L87.6,267.7 L88.4,267.3 L89.2,266.8 L90.1,266.4 L90.9,265.9 L91.7,265.4 L92.5,265.0 L93.3,264.5 L94.1,264.0 L94.8,263.4 L95.6,262.9 L96.4,262.3 L97.1,261.8 L97.8,261.2 L98.6,260.6 L99.3,260.0 L100.0,259.3 L100.7,258.7 L101.4,258.1 L102.0,257.4 L102.7,256.8 L103.4,256.1 L104.0,255.4 L104.7,254.7 L105.3,254.0 L105.9,253.3 L106.6,252.6 L107.2,251.8 L107.8,251.1 L108.4,250.4 L109.0,249.6 L109.6,248.9 L110.2,248.1 L110.7,247.3 L111.3,246.6 L111.9,245.8 L112.4,245.0 L113.0,244.2 L113.5,243.4 L114.1,242.6 L114.6,241.8 L115.1,241.0 L115.7,240.2 L116.2,239.4 L116.7,238.6 L117.2,237.8 L117.7,237.0 L118.2,236.2 L118.7,235.4 L119.2,234.6 L119.7,233.8 L120.2,232.9 L120.7,232.1 L121.2,231.3 L121.7,230.5 L122.2,229.7 L122.6,228.8 L123.1,228.0 L123.6,227.2 L124.1,226.4 L124.5,225.5 L125.0,224.7 L125.5,223.9 L125.9,223.0 L126.4,222.2 L126.8,221.4 L127.3,220.5 L127.8,219.7 L128.2,218.9 L128.7,218.0 L129.1,217.2 L129.6,216.4 L130.1,215.5 L130.5,214.7 L131.0,213.9 L131.5,213.0 L131.9,212.2 L132.4,211.4 L132.8,210.5 L133.3,209.7 L133.8,208.9 L134.2,208.1 L134.7,207.2 L135.2,206.4 L135.6,205.6 L136.1,204.7 L136.6,203.9 L137.1,203.1 L137.6,202.3 L138.0,201.5 L138.5,200.6 L139.0,199.8 L139.5,199.0 L140.0,198.2 L140.5,197.4 L141.0,196.6 L141.5,195.7 L142.0,194.9 L142.6,194.1 L143.1,193.3 L143.6,192.5 L144.1,191.7 L144.7,190.9 L145.2,190.1 L145.8,189.3 L146.3,188.5 L146.9,187.8 L147.4,187.0 L148.0,186.2 L148.6,185.4 L149.2,184.6 L149.7,183.9 L150.3,183.1 L150.9,182.5" stroke="#00ffff" stroke-dasharray="11.82,3.94,1.97,3.94"/>
<path d="M150.9,182.5 L151.6,181.6 L152.5,180.6 L153.5,179.5 L154.5,178.5 L155.5,177.6 L156.6,176.7 L157.7,175.8 L158.9,175.0 L160.1,174.3 L161.3,173.6 L162.6,173.1 L163.9,172.5 L165.2,172.0 L166.5,171.5 L167.9,171.0 L169.3,170.5 L170.6,170.1 L172.0,169.6 L173.4,169.0 L174.7,168.5 L176.0,167.9 L177.3,167.2 L178.5,166.5 L179.6,165.7 L180.7,164.8 L181.7,163.8 L182.6,162.8 L183.4,161.6 L184.3,160.5 L185.0,159.3 L185.8,158.0 L186.5,156.8 L187.2,155.5 L187.8,154.2 L188.5,153.0 L189.1,151.7 L189.8,150.4 L190.4,149.1 L191.0,147.8 L191.6,146.5 L192.2,145.2 L192.8,143.9 L193.3,142.6 L193.9,141.3 L194.4,139.9 L195.0,138.6 L195.5,137.3 L196.0,135.9 L196.5,134.6 L197.0,133.3 L197.5,131.9 L198.0,130.6 L198.5,129.2 L199.0,127.9 L199.4,126.5 L199.9,125.2 L200.3,123.8 L200.8,122.4 L201.2,121.1 L201.6,119.7 L202.1,118.3 L202.5,116.9 L202.9,115.5 L203.3,114.2 L203.7,112.8 L204.2,111.4 L204.6,110.0 L205.0,108.6 L205.4,107.2 L205.8,105.9 L206.2,104.5 L206.6,103.1 L207.1,101.7 L207.5,100.3 L207.9,99.0 L208.3,97.6 L208.8,96.2 L209.2,94.9 L209.6,93.5 L210.1,92.2 L210.5,90.9 L211.0,89.5 L211.5,88.2 L211.9,86.9 L212.4,85.6 L212.9,84.3 L213.4,83.0 L213.9,81.7 L214.4,80.4 L214.9,79.0 L215.4,77.7 L215.9,76.4 L216.4,75.0 L216.8,73.7 L217.3,72.3 L217.7,70.8 L218.1,69.4 L218.5,67.9 L218.9,66.4 L219.3,65.0 L219.8,63.5 L220.3,62.2 L220.9,60.8 L221.7,59.6 L222.5,58.4 L223.4,57.4 L224.5,56.4 L225.8,55.7 L227.2,55.1 L228.5,55.1 L229.7,55.5 L230.9,56.4 L231.9,57.5 L232.9,58.9 L233.7,60.2 L234.4,61.5 L235.0,62.9 L235.5,64.2 L236.0,65.5 L236.5,66.9 L236.9,68.2 L237.4,69.6 L237.8,70.9 L238.2,72.3 L238.6,73.6 L239.0,75.0 L239.4,76.3 L239.8,77.7 L240.2,79.1 L240.5,80.4 L240.9,81.8 L241.2,83.2 L241.6,84.6 L241.9,85.9 L242.3,87.3 L242.6,88.7 L242.9,90.1 L243.2,91.5 L243.5,92.9 L243.8,94.3 L244.1,95.7 L244.4,97.1 L244.7,98.5 L245.0,99.9 L245.3,101.3 L245.6,102.7 L245.9,104.1 L246.1,105.5 L246.4,106.9 L246.7,108.3 L247.0,109.7 L247.2,111.2 L247.5,112.6 L247.8,114.0 L248.0,115.4 L248.3,116.8 L248.5,118.2 L248.8,119.6 L249.1,121.0 L249.3,122.5 L249.6,123.9 L249.8,125.3 L250.1,126.7 L250.3,128.1 L250.6,129.5 L250.8,130.9 L251.0,131.8" stroke="#00ffff" stroke-dasharray="11.82,3.94,1.97,3.94"/>
<path d="M251.0,131.8 L251.1,132.4 L251.3,133.3 L251.4,134.2 L251.6,135.2 L251.8,136.1 L251.9,137.1 L252.1,138.0 L252.3,139.0 L252.4,139.9 L252.6,140.8 L252.8,141.8 L252.9,142.7 L253.1,143.7 L253.3,144.6 L253.4,145.6 L253.6,146.5 L253.7,147.5 L253.9,148.4 L254.1,149.3 L254.2,150.3 L254.4,151.2 L254.6,152.2 L254.7,153.1 L254.9,154.1 L255.0,155.0 L255.2,155.9 L255.4,156.9 L255.5,157.8 L255.7,158.8 L255.9,159.7 L256.0,160.7 L256.2,161.6 L256.3,162.6 L256.5,163.5 L256.7,164.4 L256.8,165.4 L257.0,166.3 L257.1,167.3 L257.3,168.2 L257.5,169.2 L257.6,170.1 L257.8,171.0 L258.0,172.0 L258.1,172.9 L258.3,173.9 L258.4,174.8 L258.6,175.7 L258.8,176.7 L258.9,177.6 L259.1,178.6 L259.2,179.5 L259.4,180.5 L259.6,181.4 L259.7,182.3 L259.9,183.3 L260.1,184.2 L260.2,185.2 L260.4,186.1 L260.5,187.0 L260.7,188.0 L260.9,188.9 L261.0,189.9 L261.2,190.8 L261.4,191.7 L261.5,192.7 L261.7,193.6 L261.9,194.6 L262.0,195.5 L262.2,196.4 L262.4,197.4 L262.5,198.3 L262.7,199.2 L262.9,200.2 L263.1,201.1 L263.2,202.1 L263.4,203.0 L263.6,203.9 L263.8,204.9 L263.9,205.8 L264.1,206.7 L264.3,207.7 L264.5,208.6 L264.7,209.5 L264.8,210.5 L265.0,211.4 L265.2,212.3 L265.4,213.3 L265.6,214.2 L265.8,215.1 L266.0,216.1 L266.2,217.0 L266.4,217.9 L266.6,218.9 L266.8,219.8 L267.0,220.7 L267.2,221.7 L267.4,222.6 L267.6,223.5 L267.8,224.4 L268.0,225.4 L268.3,226.3 L268.5,227.2 L268.7,228.2 L268.9,229.1 L269.1,230.0 L269.4,230.9 L269.6,231.9 L269.8,232.8 L270.1,233.7 L270.3,234.6 L270.6,235.6 L270.8,236.5 L271.1,237.4 L271.3,238.3 L271.6,239.2 L271.8,240.2 L272.1,241.1 L272.4,242.0 L272.6,242.9 L272.9,243.9 L273.2,244.8 L273.4,245.7 L273.7,246.6 L274.0,247.5 L274.3,248.4 L274.6,249.4 L274.9,250.3 L275.2,251.2 L275.5,252.1 L275.8,253.0 L276.1,253.9 L276.4,254.8 L276.7,255.8 L277.1,256.7 L277.4,257.6 L277.7,258.5 L278.1,259.4 L278.4,260.3 L278.7,261.2 L279.1,262.1 L279.4,263.0 L279.8,263.9 L280.2,264.8 L280.5,265.7 L280.9,266.6 L281.3,267.5 L281.7,268.4 L282.1,269.2 L282.6,270.1 L283.0,270.9 L283.4,271.8 L283.9,272.6 L284.4,273.4 L284.9,274.2 L285.4,275.0 L285.9,275.8 L286.4,276.5 L286.9,277.3 L287.5,278.0 L288.1,278.7 L288.7,279.4 L289.3,280.0 L289.9,280.7 L290.6,281.3 L291.3,281.9 L292.0,282.5 L292.7,283.0 L293.4,283.6 L294.2,284.1 L295.0,284.6 L295.8,285.0 L296.7,285.4 L297.5,285.8 L298.4,286.2 L299.3,286.5 L300.3,286.9 L301.2,287.2 L302.2,287.4 L303.1,287.7 L304.1,287.9 L305.1,288.1 L306.1,288.2 L307.1,288.4 L308.1,288.5 L309.1,288.6 L310.1,288.7 L311.1,288.7 L312.1,288.8 L313.0,288.8 L314.0,288.8 L314.9,288.8 L315.9,288.7 L316.8,288.7 L317.6,288.6 L318.5,288.5 L319.3,288.4 L319.5,288.4" stroke="#00ffff" stroke-dasharray="11.82,3.94,1.97,3.94" stroke-dashoffset="17.5"/>
</g>
<defs><clipPath id="cp"><rect x="50.7" y="31.45" width="268.8" height="259.00"/></clipPath></defs>
<rect x="50.7" y="31.45" width="268.8" height="258.40" fill="none" stroke="#000" stroke-width="1"/>
<rect x="57" y="35.45" width="143.4" height="53" fill="#fff" stroke="#000" stroke-width="1"/>
<g fill="none" stroke-width="2">
<line x1="164.2" y1="41.2" x2="194.1" y2="41.2" stroke="#ff0000"/>
<line x1="164.2" y1="51.7" x2="194.1" y2="51.7" stroke="#00ff00" stroke-dasharray="8,4"/>
<line x1="164.2" y1="62.1" x2="194.1" y2="62.1" stroke="#0000ff" stroke-dasharray="4,6"/>
<line x1="164.2" y1="72.6" x2="194.1" y2="72.6" stroke="#ff00ff" stroke-dasharray="2,3"/>
<line x1="164.2" y1="83.1" x2="194.1" y2="83.1" stroke="#00ffff" stroke-dasharray="11.82,3.94,1.97,3.94"/>
</g>
<g font-family="Liberation Sans, sans-serif" font-size="10.4px" fill="#000">
<text x="157.8" y="44.6" text-anchor="end">vac. SF</text>
<text x="157.8" y="55.1" text-anchor="end">CB</text>
<text x="157.8" y="65.5" text-anchor="end">CB + shift</text>
<text x="157.8" y="76.0" text-anchor="end">shift</text>
<text x="157.8" y="86.5" text-anchor="end">shift (ρ=const.)</text>
<text x="62.7" y="46.8">a)</text>
<text x="52.0" y="304.7" text-anchor="middle">600</text>
<text x="101.8" y="304.7" text-anchor="middle">650</text>
<text x="151.6" y="304.7" text-anchor="middle">700</text>
<text x="201.3" y="304.7" text-anchor="middle">750</text>
<text x="251.1" y="304.7" text-anchor="middle">800</text>
<text x="300.9" y="304.7" text-anchor="middle">850</text>
<text x="44.5" y="294.1" text-anchor="end">0</text>
<text x="44.5" y="247.1" text-anchor="end">0.2</text>
<text x="44.5" y="200.1" text-anchor="end">0.4</text>
<text x="44.5" y="153.1" text-anchor="end">0.6</text>
<text x="44.5" y="106.1" text-anchor="end">0.8</text>
<text x="44.5" y="59.1" text-anchor="end">1</text>
<text x="136.0" y="19" font-size="10.6px">E<tspan font-size="8px" dy="3" letter-spacing="-0.5">γ</tspan><tspan dy="-3"> = 900 - 1100 MeV</tspan></text>
<text x="154.3" y="319">M<tspan font-size="8px" dy="3.3" letter-spacing="-0.7">πγ</tspan><tspan dy="-3.3"> [MeV/c</tspan><tspan font-size="7.6px" dy="-5.1">2</tspan><tspan dy="5.1">]</tspan></text>
<text transform="translate(9.2,225.5) rotate(-90)">dσ/M<tspan font-size="8px" dy="3.3" letter-spacing="-0.7">πγ</tspan><tspan dy="-3.3"> [normalized to max.]</tspan></text>
</g>
</svg>
</body></html>
